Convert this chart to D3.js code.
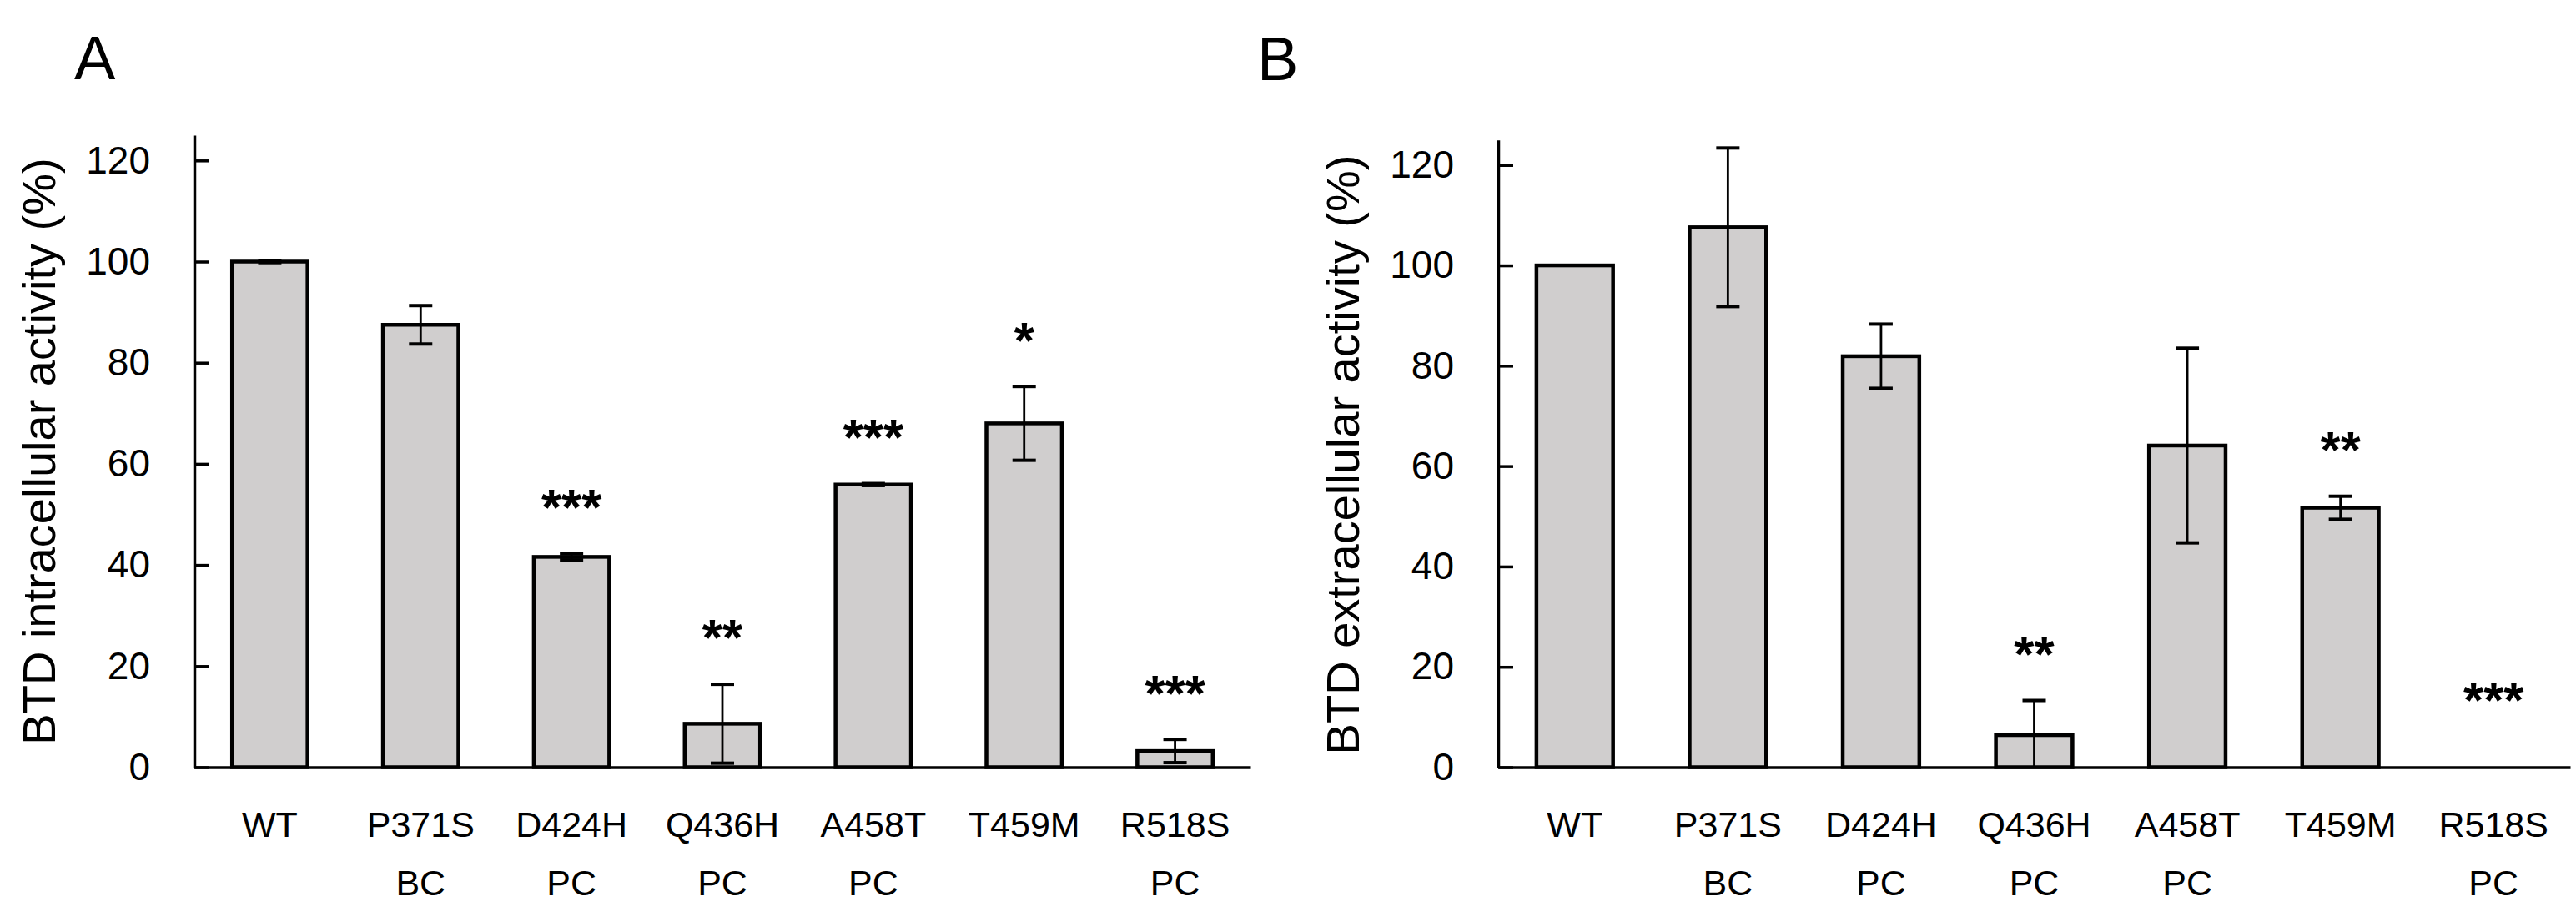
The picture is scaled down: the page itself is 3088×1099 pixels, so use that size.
<!DOCTYPE html>
<html><head><meta charset="utf-8">
<script src="https://cdn.jsdelivr.net/npm/d3@7"></script>
<style>body{margin:0;background:#fff} svg{display:block}</style>
</head><body>
<script>
const categories = ["WT","P371S","D424H","Q436H","A458T","T459M","R518S"];
const subLabels  = ["","BC","PC","PC","PC","","PC"];
const intraValues = [100, 87.5, 41.6, 8.6, 55.9, 68.0, 3.2];
const intraErrors = [0.2, 3.8, 0.6, 7.8, 0.2, 7.3, 2.3];
const intraSig    = ["","","***","**","***","*","***"];
const extraValues = [100, 107.6, 81.9, 6.4, 64.1, 51.7, 0];
const extraErrors = [0, 15.8, 6.4, 6.9, 19.4, 2.3, 0];
const extraSig    = ["","","","**","","**","***"];
const yTicks = [0,20,40,60,80,100,120];
const yMax = 125;

const W = 3088, H = 1099;
const FONT = "'Liberation Sans', Arial, sans-serif";
const svg = d3.select("body").append("svg").attr("width", W).attr("height", H)
  .style("font-family", FONT);

const panels = [
  {letter:"A", letterX:89, letterY:95, left:233, right:1499, top:162, bottom:919.5,
   title:"BTD intracellular activity (%)", titleX:66, titleY:541,
   values:intraValues, errors:intraErrors, sig:intraSig},
  {letter:"B", letterX:1507, letterY:96, left:1796, right:3081, top:167.7, bottom:919.5,
   title:"BTD extracellular activity (%)", titleX:1629, titleY:545,
   values:extraValues, errors:extraErrors, sig:extraSig}
];

panels.forEach(p => {
  const g = svg.append("g");
  const x = d3.scaleBand().domain(categories).range([p.left, p.right]).paddingInner(0.5).paddingOuter(0.25);
  const y = d3.scaleLinear().domain([0, yMax]).range([p.bottom, p.top]);
  const data = categories.map((c,i) => ({c, v:p.values[i], e:p.errors[i], s:p.sig[i], sub:subLabels[i]}));

  g.append("text").attr("x", p.letterX).attr("y", p.letterY)
    .attr("font-size", 74).attr("fill", "#000").text(p.letter);

  g.append("text")
    .attr("transform", `translate(${p.titleX},${p.titleY}) rotate(-90)`)
    .attr("text-anchor", "middle").attr("font-size", 56).attr("fill", "#000")
    .text(p.title);

  g.selectAll("rect.bar").data(data).join("rect").attr("class","bar")
    .attr("x", d => x(d.c)).attr("width", x.bandwidth())
    .attr("y", d => y(d.v)).attr("height", d => y(0) - y(d.v))
    .attr("fill", "#d0cece").attr("stroke", d => d.v > 0 ? "#000" : "none").attr("stroke-width", 4.5);

  const cw = 14;
  data.filter(d => d.e > 0).forEach(d => {
    const cx = x(d.c) + x.bandwidth()/2;
    const lo = Math.max(0, d.v - d.e), hi = d.v + d.e;
    g.append("line").attr("x1", cx).attr("x2", cx).attr("y1", y(lo)).attr("y2", y(hi))
      .attr("stroke", "#000").attr("stroke-width", 2.8);
    g.append("line").attr("x1", cx-cw).attr("x2", cx+cw).attr("y1", y(hi)).attr("y2", y(hi))
      .attr("stroke", "#000").attr("stroke-width", 4);
    if (d.v - d.e > 0) {
      g.append("line").attr("x1", cx-cw).attr("x2", cx+cw).attr("y1", y(lo)).attr("y2", y(lo))
        .attr("stroke", "#000").attr("stroke-width", 4);
    }
  });

  g.selectAll("text.sig").data(data.filter(d => d.s)).join("text").attr("class","sig")
    .attr("x", d => x(d.c) + x.bandwidth()/2)
    .attr("y", d => Math.min(y(d.v + d.e) - 70, p.bottom - 95) + 0.57*62)
    .attr("text-anchor", "middle").attr("font-size", 62).attr("font-weight", "bold").attr("fill", "#000")
    .text(d => d.s);

  const ya = g.append("g").attr("transform", `translate(${p.left},0)`)
    .call(d3.axisLeft(y).tickValues(yTicks).tickSizeInner(-18).tickSizeOuter(0).tickPadding(53));
  ya.select(".domain").attr("stroke", "#000").attr("stroke-width", 3.5);
  ya.selectAll(".tick line").attr("stroke", "#000").attr("stroke-width", 3.5);
  ya.selectAll(".tick text").attr("font-size", 46).attr("font-family", FONT).attr("fill", "#000");

  const xa = g.append("g").attr("transform", `translate(0,${p.bottom})`)
    .call(d3.axisBottom(x).tickSize(0).tickSizeOuter(0).tickPadding(0));
  xa.select(".domain").attr("stroke", "#000").attr("stroke-width", 3.5);
  xa.selectAll(".tick text").attr("font-size", 43).attr("font-family", FONT).attr("fill", "#000")
    .attr("dy", null).attr("y", 1003 - p.bottom);
  g.selectAll("text.sub").data(data.filter(d => d.sub)).join("text").attr("class","sub")
    .attr("x", d => x(d.c) + x.bandwidth()/2).attr("y", 1073)
    .attr("text-anchor", "middle").attr("font-size", 43).attr("fill", "#000")
    .text(d => d.sub);
});
</script>
</body></html>
